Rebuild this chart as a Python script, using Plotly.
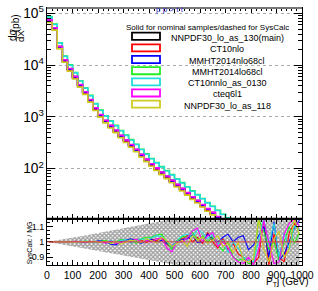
import plotly.graph_objects as go

# ---------------- data ----------------
BIN_EDGES = list(range(0, 1001, 20))
BIN_CENTERS = [e + 10 for e in BIN_EDGES[:-1]]

SAMPLES = ["NNPDF30_lo_as_130(main)", "CT10nlo", "MMHT2014nlo68cl", "MMHT2014lo68cl",
           "CT10nnlo_as_0130", "cteq6l1", "NNPDF30_lo_as_118"]
COLORS = ["#000000", "#ff0000", "#0000ff", "#22ee22", "#22dddd", "#ff00ff", "#cccc22"]

XS_NNPDF130 = [74000, 52500, 22900, 12600, 8500, 6000, 4170, 3020, 2140, 1480, 1100, 850, 676, 550,
               437, 355, 288, 234, 186, 151, 123, 102, 85, 71, 59, 49, 41, 34, 28.2, 24.0, 20.0, 16.6,
               14.1, 11.7, 9.8, 8.3, 7.1, 5.9, 5.0, 4.2, 3.5, 3.0, 2.6, 2.2, 1.86, 1.58, 1.35, 1.15,
               0.98, 0.83]
XS_CT10NLO = [69000, 49000, 21300, 11700, 7900, 5580, 3880, 2810, 1990, 1375, 1023, 790, 629, 512,
              406, 330, 268, 218, 173, 140, 114, 95, 79, 66, 55, 45.6, 38.1, 31.6, 26.2, 22.3, 18.6,
              15.4, 13.1, 10.9, 9.1, 7.7, 6.6, 5.5, 4.65, 3.9, 3.26, 2.79, 2.42, 2.05, 1.73, 1.47,
              1.26, 1.07, 0.91, 0.77]
XS_MMHTNLO = [72500, 51500, 22400, 12350, 8330, 5880, 4090, 2960, 2100, 1450, 1078, 833, 663, 539,
              428, 348, 282, 229, 182, 148, 120.5, 100, 83.3, 69.6, 57.8, 48, 40.2, 33.3, 27.6, 23.5,
              19.6, 16.3, 13.8, 11.5, 9.6, 8.1, 7.0, 5.8, 4.9, 4.1, 3.43, 2.94, 2.55, 2.16, 1.82,
              1.55, 1.32, 1.13, 0.96, 0.81]
XS_MMHTLO = [87000, 62000, 27000, 15000, 10100, 7200, 5000, 3650, 2600, 1810, 1350, 1050, 840, 685,
             546, 445, 362, 296, 236, 192, 157, 131, 109, 91.5, 76.5, 63.5, 53.5, 44.5, 37, 31.5,
             26.3, 22, 18.7, 15.6, 13.1, 11.1, 9.5, 7.9, 6.7, 5.7, 4.75, 4.05, 3.5, 3.0, 2.55, 2.17,
             1.86, 1.58, 1.35, 1.15]
XS_CT10NNLO = [85500, 61000, 26600, 14800, 9950, 7080, 4920, 3590, 2560, 1780, 1330, 1035, 828, 675,
               538, 438, 357, 291, 233, 189, 155, 129, 107.5, 90, 75.5, 62.5, 52.5, 44, 36.5, 31,
               26, 21.7, 18.5, 15.4, 12.9, 11, 9.4, 7.8, 6.6, 5.6, 4.7, 4.0, 3.45, 2.95, 2.5, 2.14,
               1.83, 1.56, 1.33, 1.13]
XS_CTEQ6L1 = [75000, 53000, 23100, 12700, 8590, 6060, 4210, 3050, 2160, 1495, 1110, 859, 683, 556,
              441, 359, 291, 236, 188, 152.5, 124, 103, 86, 71.7, 59.6, 49.5, 41.4, 34.3, 28.5, 24.2,
              20.2, 16.8, 14.2, 11.8, 9.9, 8.4, 7.2, 6.0, 5.05, 4.25, 3.54, 3.03, 2.63, 2.22, 1.88,
              1.6, 1.36, 1.16, 0.99, 0.84]
XS_NNPDF118 = [67000, 47500, 20600, 11350, 7650, 5400, 3750, 2720, 1925, 1330, 990, 765, 608, 495,
               393, 320, 259, 211, 167, 136, 111, 92, 76.5, 64, 53, 44.1, 36.9, 30.6, 25.4, 21.6,
               18, 14.9, 12.7, 10.5, 8.8, 7.5, 6.4, 5.3, 4.5, 3.8, 3.15, 2.7, 2.34, 1.98, 1.67, 1.42,
               1.22, 1.04, 0.88, 0.75]

R_CT10NLO = [1.000, 1.001, 0.999, 1.002, 0.998, 1.003, 0.997, 1.002, 1.004, 0.996,
             1.006, 0.995, 1.008, 0.990, 1.004, 1.010, 0.993, 1.015, 1.012, 0.995,
             1.020, 1.005, 1.030, 0.985, 0.960, 1.010, 1.020, 1.040, 1.000, 1.030,
             0.990, 1.060, 1.000, 0.960, 1.020, 0.950, 0.990, 0.920, 0.900, 0.880,
             0.860, 0.900, 1.150, 0.850, 1.050, 0.900, 0.870, 1.060, 1.120, 1.080]
R_MMHTNLO = [1.000, 0.999, 1.001, 0.998, 1.002, 0.999, 1.003, 0.996, 0.998, 1.004,
             1.008, 1.002, 0.985, 0.980, 1.000, 1.012, 1.020, 1.006, 0.990, 1.010,
             1.015, 1.000, 1.010, 0.990, 0.975, 1.000, 1.015, 1.020, 1.045, 0.995,
             1.000, 1.050, 1.020, 1.000, 1.030, 1.050, 1.000, 1.030, 1.040, 0.950,
             0.980, 1.040, 1.100, 0.900, 1.130, 0.880, 0.920, 1.000, 1.090, 1.140]
R_MMHTLO = [1.000, 1.002, 1.000, 1.001, 0.998, 1.004, 0.999, 1.005, 1.000, 0.997,
            1.004, 1.010, 0.995, 1.000, 1.015, 1.008, 1.012, 0.990, 1.020, 1.030,
            1.030, 1.045, 1.050, 1.000, 0.950, 1.000, 1.035, 1.030, 1.065, 1.010,
            1.040, 1.000, 1.030, 0.980, 0.940, 1.000, 0.900, 0.880, 0.890, 0.860,
            0.860, 1.150, 1.070, 0.950, 1.000, 0.880, 1.000, 1.100, 0.990, 1.060]
R_CT10NNLO = [1.000, 1.000, 1.002, 0.999, 1.001, 1.002, 0.998, 1.003, 1.001, 0.999,
              1.005, 0.998, 1.010, 0.995, 1.008, 1.015, 0.990, 1.012, 1.020, 1.010,
              1.025, 1.040, 1.035, 1.005, 0.965, 1.010, 1.040, 1.050, 1.030, 1.075,
              1.060, 1.020, 1.045, 0.985, 1.010, 0.930, 1.000, 0.960, 0.900, 0.880,
              0.870, 1.020, 1.150, 0.980, 1.120, 0.900, 1.060, 0.950, 1.100, 1.080]
R_CTEQ6L1 = [1.000, 0.998, 1.001, 1.000, 0.999, 1.003, 1.001, 0.997, 1.002, 1.003,
             1.000, 0.992, 1.005, 0.990, 0.998, 1.006, 1.004, 1.018, 1.000, 1.008,
             1.000, 1.020, 1.025, 0.960, 0.935, 1.000, 1.000, 1.025, 1.070, 1.090,
             1.000, 1.040, 1.060, 0.970, 1.000, 0.960, 0.900, 0.870, 0.860, 0.900,
             0.850, 0.950, 1.140, 1.000, 0.860, 0.870, 1.050, 1.120, 1.150, 1.100]
R_NNPDF118 = [1.000, 1.001, 0.998, 1.002, 1.000, 0.997, 1.002, 1.001, 0.998, 1.004,
              0.996, 1.005, 0.990, 1.002, 0.985, 1.000, 1.010, 1.005, 0.995, 1.020,
              1.010, 0.995, 1.030, 1.010, 0.970, 0.990, 1.010, 0.970, 1.040, 1.010,
              1.030, 0.990, 1.010, 1.040, 0.970, 0.990, 0.930, 1.000, 0.880, 0.870,
              0.890, 1.150, 0.950, 0.870, 1.020, 1.070, 0.900, 0.950, 1.150, 1.040]

BAND_HALF = [0.003, 0.008, 0.013, 0.018, 0.024, 0.030, 0.036, 0.042, 0.048, 0.054,
             0.060, 0.066, 0.072, 0.078, 0.084, 0.090, 0.096, 0.102, 0.108, 0.114,
             0.120, 0.126, 0.132, 0.138, 0.145, 0.152, 0.160, 0.170, 0.180, 0.190,
             0.200, 0.210, 0.220, 0.230, 0.240, 0.250, 0.260, 0.270, 0.280, 0.290,
             0.300, 0.310, 0.320, 0.330, 0.340, 0.350, 0.360, 0.370, 0.380, 0.390]

XSECS = [XS_NNPDF130, XS_CT10NLO, XS_MMHTNLO, XS_MMHTLO, XS_CT10NNLO, XS_CTEQ6L1, XS_NNPDF118]
RATIOS = [None, R_CT10NLO, R_MMHTNLO, R_MMHTLO, R_CT10NNLO, R_CTEQ6L1, R_NNPDF118]

# ---------------- geometry ----------------
W, H = 318, 291
L, R, T, B = 47, 302, 4, 265
SPLIT = 218


def px(x):
    return (x - L) / (R - L)


def py(y):
    return (B - y) / (B - T)


FONT = "Liberation Sans, Arial, Helvetica, sans-serif"

fig = go.Figure()

# ratio band
band_x = BIN_CENTERS + BIN_CENTERS[::-1]
band_y = [1 + h for h in BAND_HALF] + [1 - h for h in BAND_HALF[::-1]]
fig.add_trace(go.Scatter(x=band_x, y=band_y, xaxis="x", yaxis="y", mode="lines",
                         line=dict(width=0, color="rgba(0,0,0,0)"), fill="toself",
                         fillcolor="rgba(255,255,255,0)",
                         fillpattern=dict(shape="x", fgcolor="#444444", bgcolor="#ffffff",
                                          size=3, solidity=0.7),
                         showlegend=False, hoverinfo="skip"))

# ratio lines
for name, col, rat in zip(SAMPLES, COLORS, RATIOS):
    if rat is None:
        continue
    fig.add_trace(go.Scatter(x=BIN_CENTERS, y=rat, xaxis="x", yaxis="y", mode="lines",
                             line=dict(color=col, width=1.1), showlegend=False, name=name))

# top histograms
for name, col, xs in zip(SAMPLES, COLORS, XSECS):
    fig.add_trace(go.Scatter(x=BIN_EDGES, y=xs + [xs[-1]], xaxis="x2", yaxis="y2", mode="lines",
                             line=dict(color=col, width=1.6, shape="hv"), showlegend=False,
                             name=name))

tickfont = dict(family=FONT, size=10.5, color="black")

fig.update_layout(
    width=W, height=H,
    margin=dict(l=L, r=W - R, t=T, b=H - B, pad=0),
    paper_bgcolor="white", plot_bgcolor="white",
    showlegend=False,
    font=dict(family=FONT, color="black"),
    xaxis=dict(domain=[0, 1], anchor="y", range=[0, 1000], tickvals=list(range(0, 1001, 100)),
               ticks="inside", ticklen=5, tickcolor="black", showline=True, linecolor="black",
               linewidth=1, mirror="ticks", showgrid=False, zeroline=False, tickfont=tickfont,
               ticklabeloverflow="allow",
               minor=dict(dtick=20, ticks="inside", ticklen=3, tickcolor="black", showgrid=False)),
    yaxis=dict(domain=[0, py(SPLIT)], anchor="x", range=[0.85, 1.15], tickvals=[0.9, 1.0, 1.1],
               ticktext=["0.9", "1", "1.1"], ticks="inside", ticklen=6, tickcolor="black",
               showline=True, linecolor="black", linewidth=1, mirror="ticks", showgrid=False,
               zeroline=False, tickfont=dict(family=FONT, size=9, color="black"),
               ticklabeloverflow="allow",
               minor=dict(dtick=0.025, ticks="inside", ticklen=3, tickcolor="black",
                          showgrid=False)),
    xaxis2=dict(domain=[0, 1], anchor="y2", matches="x", range=[0, 1000], showticklabels=False,
                tickvals=list(range(0, 1001, 100)), ticks="inside", ticklen=5, tickcolor="black",
                showline=True, linecolor="black", linewidth=1, mirror="ticks", showgrid=False,
                zeroline=False,
                minor=dict(dtick=20, ticks="inside", ticklen=3, tickcolor="black",
                           showgrid=False)),
    yaxis2=dict(domain=[py(SPLIT), 1], anchor="x2", type="log", range=[1.03, 5.105], dtick=1,
                exponentformat="power", ticks="inside", ticklen=8, tickcolor="black",
                showline=True, linecolor="black", linewidth=1, mirror="ticks",
                showgrid=True, gridcolor="#aaaaaa", griddash="dot", gridwidth=1,
                zeroline=False, tickfont=dict(family=FONT, size=11, color="black"),
                ticklabeloverflow="allow",
                minor=dict(ticks="inside", ticklen=4, tickcolor="black", showgrid=False)),
)

shapes = []
annos = []

# panel separator
shapes.append(dict(type="line", xref="paper", yref="paper", x0=0, x1=1, y0=py(SPLIT),
                   y1=py(SPLIT), line=dict(color="black", width=2)))
# top frame (gray thick)
shapes.append(dict(type="line", xref="paper", yref="paper", x0=0, x1=1, y0=1, y1=1,
                   line=dict(color="#777777", width=2)))
# ratio reference line
shapes.append(dict(type="line", xref="x", yref="y", x0=0, x1=1000, y0=1, y1=1,
                   line=dict(color="#cc4444", width=1), layer="above"))

# legend
annos.append(dict(xref="paper", yref="paper", x=px(207), y=py(24),
                  text="Solid for nominal samples/dashed for SysCalc", showarrow=False,
                  font=dict(family=FONT, size=8, color="black"), xanchor="center",
                  yanchor="middle"))
LEG_Y = [32.7, 44.5, 56.3, 67.7, 79.0, 90.3, 101.6]
for name, col, ly in zip(SAMPLES, COLORS, LEG_Y):
    shapes.append(dict(type="rect", xref="paper", yref="paper", x0=px(132), x1=px(160),
                       y0=py(ly + 3.6), y1=py(ly - 3.6), line=dict(color=col, width=1.8),
                       fillcolor="white", layer="above"))
    annos.append(dict(xref="paper", yref="paper", x=px(227), y=py(ly + 1.5), text=name,
                      showarrow=False, font=dict(family=FONT, size=9, color="black"),
                      xanchor="center", yanchor="middle"))

# process title
annos.append(dict(xref="paper", yref="paper", x=px(170), y=py(5.5), text="p p &gt; t t",
                  showarrow=False, font=dict(family=FONT, size=8, color="#3333cc"),
                  xanchor="center", yanchor="middle"))

# y title top: d sigma / dX (pb)
annos.append(dict(xref="paper", yref="paper", x=px(12), y=py(31.5), text="dσ", textangle=-90,
                  showarrow=False, font=dict(family=FONT, size=10), xanchor="center",
                  yanchor="middle"))
annos.append(dict(xref="paper", yref="paper", x=px(20.5), y=py(33), text="dX", textangle=-90,
                  showarrow=False, font=dict(family=FONT, size=9.5), xanchor="center",
                  yanchor="middle"))
shapes.append(dict(type="line", xref="paper", yref="paper", x0=px(16.3), x1=px(16.3),
                   y0=py(27), y1=py(38), line=dict(color="black", width=0.8)))
annos.append(dict(xref="paper", yref="paper", x=px(15), y=py(19.5), text="(pb)", textangle=-90,
                  showarrow=False, font=dict(family=FONT, size=10), xanchor="center",
                  yanchor="middle"))

# ratio y title
annos.append(dict(xref="paper", yref="paper", x=px(30), y=py(243), text="SysCalc / MG",
                  textangle=-90, showarrow=False, font=dict(family=FONT, size=7),
                  xanchor="center", yanchor="middle"))

# x title
annos.append(dict(xref="paper", yref="paper", x=px(311), y=py(282),
                  text="P<sub>T</sub>j (GeV)", showarrow=False,
                  font=dict(family=FONT, size=10), xanchor="right", yanchor="middle"))

fig.update_layout(shapes=shapes, annotations=annos)

fig.write_html("out.html", config={"displayModeBar": False},
               post_script="document.body.style.margin='0';document.body.style.padding='0';")
